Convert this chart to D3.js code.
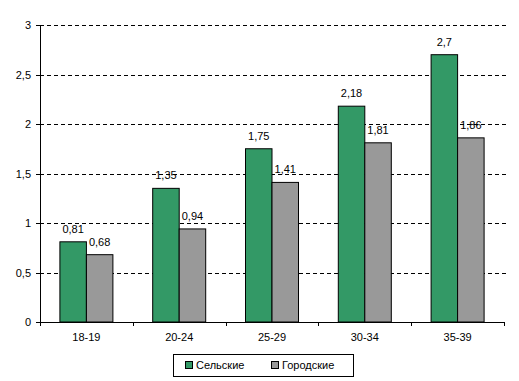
<!DOCTYPE html>
<html><head><meta charset="utf-8">
<script src="https://cdn.jsdelivr.net/npm/d3@7"></script>
<style>body{margin:0;background:#fff}svg{display:block}text{font-family:"Liberation Sans",Arial,sans-serif;font-size:11px;fill:#000}</style>
</head><body>
<script>
const categories = ["18-19","20-24","25-29","30-34","35-39"];
const rural = [0.81,1.35,1.75,2.18,2.7];
const urban = [0.68,0.94,1.41,1.81,1.86];
const ruralLabels = ["0,81","1,35","1,75","2,18","2,7"];
const urbanLabels = ["0,68","0,94","1,41","1,81","1,86"];
const yTicks = [0,0.5,1,1.5,2,2.5,3];
const yTickLabels = ["0","0,5","1","1,5","2","2,5","3"];
const seriesNames = ["Сельские","Городские"];
const colors = ["#339966","#999999"];

(function(){
const W=519,H=381;
const svg=d3.select("body").append("svg").attr("width",W).attr("height",H);
const pL=40,pR=504,pT=25,pB=322;
const x=d3.scaleBand().domain(categories).range([pL,pR]);
const y=d3.scaleLinear().domain([0,3]).range([pB,pT]);
const barW=26.5;

svg.append("g").selectAll("line").data(yTicks.slice(1)).join("line")
 .attr("x1",pL).attr("x2",508).attr("y1",d=>Math.round(y(d))+0.5).attr("y2",d=>Math.round(y(d))+0.5)
 .attr("stroke","#000").attr("stroke-dasharray","4,3").attr("shape-rendering","crispEdges");

const series=[rural,urban], labels=[ruralLabels,urbanLabels];
series.forEach((vals,si)=>{
  const g=svg.append("g");
  g.selectAll("rect").data(vals).join("rect")
   .attr("x",(d,i)=>x(categories[i])+x.bandwidth()/2-barW+si*barW)
   .attr("y",d=>y(d)).attr("width",barW).attr("height",d=>pB-y(d))
   .attr("fill",colors[si]).attr("stroke","#000").attr("stroke-width",1);
  g.selectAll("text").data(vals).join("text")
   .attr("x",(d,i)=>x(categories[i])+x.bandwidth()/2-barW/2+si*barW)
   .attr("y",d=>y(d)-9).attr("text-anchor","middle").text((d,i)=>labels[si][i]);
});

const ya=svg.append("g");
ya.append("line").attr("x1",pL+0.5).attr("x2",pL+0.5).attr("y1",pT).attr("y2",pB).attr("stroke","#000");
ya.selectAll("line.t").data(yTicks).join("line").attr("class","t")
 .attr("x1",pL-4).attr("x2",pL).attr("y1",d=>Math.round(y(d))+0.5).attr("y2",d=>Math.round(y(d))+0.5).attr("stroke","#000");
ya.selectAll("text").data(yTicks).join("text")
 .attr("x",31).attr("y",d=>y(d)+4).attr("text-anchor","end").text((d,i)=>yTickLabels[i]);

const xa=svg.append("g");
xa.append("line").attr("x1",pL).attr("x2",pR+1).attr("y1",pB+0.5).attr("y2",pB+0.5).attr("stroke","#000");
const bounds=categories.map(c=>x(c)).concat([pR]);
xa.selectAll("line.t").data(bounds).join("line").attr("class","t")
 .attr("x1",d=>Math.round(d)+0.5).attr("x2",d=>Math.round(d)+0.5).attr("y1",pB).attr("y2",pB+4).attr("stroke","#000");
xa.selectAll("text").data(categories).join("text")
 .attr("x",d=>x(d)+x.bandwidth()/2).attr("y",341).attr("text-anchor","middle").text(d=>d);

const lg=svg.append("g");
lg.append("rect").attr("x",173.5).attr("y",354.5).attr("width",180).attr("height",22).attr("fill","#fff").attr("stroke","#000");
const lx=[185,271];
seriesNames.forEach((n,i)=>{
  lg.append("rect").attr("x",lx[i]+0.5).attr("y",361.5).attr("width",7).attr("height",7).attr("fill",colors[i]).attr("stroke","#000");
  lg.append("text").attr("x",lx[i]+11).attr("y",369).text(n);
});
})();
</script>
</body></html>
